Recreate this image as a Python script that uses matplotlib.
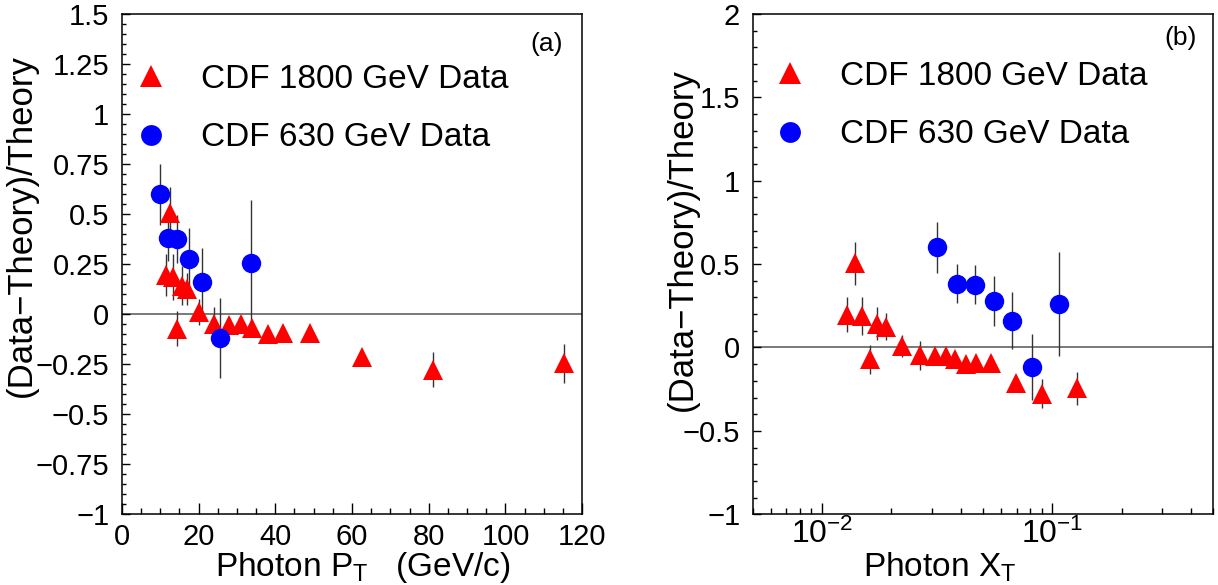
import matplotlib
matplotlib.use("Agg")
import matplotlib.pyplot as plt
from matplotlib.lines import Line2D
from matplotlib.ticker import MultipleLocator, FixedLocator, FuncFormatter, LogLocator, NullFormatter
import numpy as np

plt.rcParams["font.family"] = ["Liberation Sans", "DejaVu Sans"]
plt.rcParams["mathtext.fontset"] = "custom"
plt.rcParams["mathtext.rm"] = "Liberation Sans"
plt.rcParams["mathtext.it"] = "Liberation Sans"

# CDF 1800 GeV points
pt_1800 = [11.5, 12.5, 13.4, 14.5, 15.6, 17.1, 20.0, 24.0, 28.0, 31.1,
           34.0, 38.2, 42.1, 49.0, 62.7, 81.1, 115.2]
xt_1800 = [0.0128, 0.0139, 0.0149, 0.0161, 0.0173, 0.0190, 0.0222, 0.0267, 0.0311, 0.0346,
           0.0378, 0.0424, 0.0468, 0.0544, 0.0697, 0.0901, 0.128]
ratio_1800 = [0.195, 0.505, 0.188, -0.072, 0.143, 0.125, 0.009, -0.048, -0.053, -0.050,
              -0.068, -0.097, -0.095, -0.093, -0.214, -0.277, -0.245]
err_1800 = [0.105, 0.13, 0.115, 0.087, 0.097, 0.08, 0.065, 0.085, 0.04, 0.04,
            0.04, 0.035, 0.035, 0.035, 0.04, 0.088, 0.097]

# CDF 630 GeV points
pt_630 = [10.0, 12.1, 14.5, 17.5, 21.0, 25.7, 33.8]
xt_630 = [0.0317, 0.0384, 0.0460, 0.0556, 0.0667, 0.0816, 0.1073]
ratio_630 = [0.60, 0.383, 0.376, 0.278, 0.160, -0.117, 0.258]
err_630 = [0.152, 0.116, 0.118, 0.152, 0.172, 0.20, 0.312]

label_1800 = "CDF 1800 GeV Data"
label_630 = "CDF 630 GeV Data"


def tick_fmt(v, pos):
    s = "%g" % v
    return s.replace("-", "\u2212")


def draw_points(ax, x1800, x630):
    ax.axhline(0, color="#555555", lw=1.1, zorder=1)
    ax.errorbar(x1800, ratio_1800, yerr=err_1800, fmt="none", ecolor="#333333",
                elinewidth=1.0, capsize=0, zorder=2)
    ax.errorbar(x630, ratio_630, yerr=err_630, fmt="none", ecolor="#333333",
                elinewidth=1.0, capsize=0, zorder=2)
    ax.plot(x1800, ratio_1800, "^", color="red", ms=15, mew=0, zorder=3)
    ax.plot(x630, ratio_630, "o", color="blue", ms=14, mew=0, zorder=3)


def style_axes(ax):
    for sp in ax.spines.values():
        sp.set_linewidth(1.1)
    ax.tick_params(which="both", direction="in", top=False, right=False,
                   labelsize=21, width=1.0)
    ax.tick_params(axis="y", which="major", length=6, pad=9)
    ax.tick_params(axis="y", which="minor", length=3)
    ax.tick_params(axis="x", which="major", length=8, pad=6)
    ax.tick_params(axis="x", which="minor", length=4)
    ax.set_ylabel("(Data\u2212Theory)/Theory", fontsize=25)


def add_legend(ax, x0, y0):
    handles = [
        Line2D([], [], marker="^", color="red", ls="none", ms=16, mew=0),
        Line2D([], [], marker="o", color="blue", ls="none", ms=15, mew=0),
    ]
    ax.legend(handles, [label_1800, label_630], loc="upper left",
              bbox_to_anchor=(x0, y0), frameon=False, fontsize=24,
              handlelength=1.0, handletextpad=1.0, labelspacing=0.82,
              borderpad=0, borderaxespad=0)


fig = plt.figure(figsize=(12.18, 5.85), dpi=100)
ax1 = fig.add_axes([0.100, 0.121, 0.378, 0.855])
ax2 = fig.add_axes([0.618, 0.121, 0.378, 0.855])

# (a) versus photon pT
draw_points(ax1, pt_1800, pt_630)
ax1.set_xlim(0, 120)
ax1.set_ylim(-1, 1.5)
ax1.xaxis.set_major_locator(MultipleLocator(20))
ax1.xaxis.set_minor_locator(MultipleLocator(5))
ax1.yaxis.set_major_locator(MultipleLocator(0.25))
ax1.yaxis.set_minor_locator(MultipleLocator(0.05))
ax1.yaxis.set_major_formatter(FuncFormatter(tick_fmt))
ax1.xaxis.set_major_formatter(FuncFormatter(tick_fmt))
style_axes(ax1)
ax1.yaxis.set_label_coords(-0.182, 0.578)
ax1.set_xlabel(r"Photon P$_{\mathregular{T}}$   (GeV/c)", fontsize=24)
ax1.xaxis.set_label_coords(0.524, -0.072)
add_legend(ax1, 0.028, 0.90)
ax1.text(0.922, 0.94, "(a)", transform=ax1.transAxes, fontsize=19,
         ha="center", va="center")

# (b) versus photon xT
draw_points(ax2, xt_1800, xt_630)
ax2.set_xscale("log")
ax2.set_xlim(0.005, 0.5)
ax2.set_ylim(-1, 2)
ax2.xaxis.set_major_locator(FixedLocator([0.01, 0.1]))
ax2.xaxis.set_minor_locator(LogLocator(base=10, subs=np.arange(2, 10)))
ax2.xaxis.set_minor_formatter(NullFormatter())
ax2.xaxis.set_major_formatter(FuncFormatter(
    lambda v, p: r"$\mathregular{10^{%d}}$" % round(np.log10(v))))
ax2.yaxis.set_major_locator(MultipleLocator(0.5))
ax2.yaxis.set_minor_locator(MultipleLocator(0.1))
ax2.yaxis.set_major_formatter(FuncFormatter(tick_fmt))
style_axes(ax2)
ax2.tick_params(axis="x", which="major", labelsize=23, pad=3)
ax2.yaxis.set_label_coords(-0.118, 0.55)
ax2.set_xlabel(r"Photon X$_{\mathregular{T}}$", fontsize=24)
ax2.xaxis.set_label_coords(0.407, -0.072)
add_legend(ax2, 0.045, 0.906)
ax2.text(0.93, 0.952, "(b)", transform=ax2.transAxes, fontsize=19,
         ha="center", va="center")

fig.savefig("out.png", dpi=100)
